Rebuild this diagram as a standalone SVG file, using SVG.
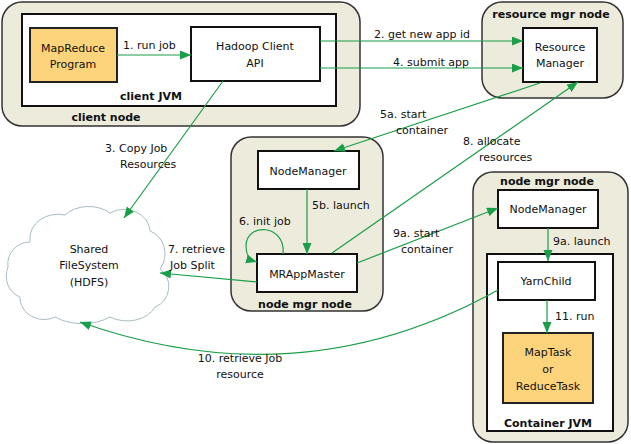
<svg xmlns="http://www.w3.org/2000/svg" width="631" height="444" viewBox="0 0 631 444">
<style>
.host{fill:#ecebdc;stroke:#333;stroke-width:1.5}
.jvm{fill:#fff;stroke:#111;stroke-width:2}
.box{fill:#fff;stroke:#111;stroke-width:2}
.task{fill:#fdd37b;stroke:#222;stroke-width:2}
.t{font-family:"DejaVu Sans",Verdana,sans-serif;font-size:11px;fill:#111}
.c{text-anchor:middle}
.b{font-family:"DejaVu Sans",Verdana,sans-serif;font-size:11px;font-weight:bold;fill:#111;text-anchor:middle}
.e{fill:none;stroke:#1a9e48;stroke-width:1.2;marker-end:url(#ah)}
.cloud{fill:#fff;stroke:#a9bcc4;stroke-width:1}
</style>
<defs>
<marker id="ah" markerUnits="userSpaceOnUse" markerWidth="12" markerHeight="10" refX="11" refY="4.5" orient="auto">
<path d="M0,0 L11,4.5 L0,9 z" fill="#1a9e48"/>
</marker>
</defs>
<g id="client-node">
<rect class="host" x="2" y="2" width="358" height="124" rx="20"/>
<text class="b" x="106" y="121">client node</text>
</g>
<g id="client-jvm">
<rect class="jvm" x="22" y="14" width="314" height="92"/>
<text class="b" x="151" y="100">client JVM</text>
</g>
<g id="mapreduce-program">
<rect class="task" x="30" y="28" width="87" height="54"/>
<text class="t c" x="73" y="52">MapReduce</text>
<text class="t c" x="73" y="68">Program</text>
</g>
<g id="hadoop-client">
<rect class="box" x="191" y="27" width="129" height="54"/>
<text class="t c" x="255" y="50">Hadoop Client</text>
<text class="t c" x="255" y="67">API</text>
</g>
<g id="resource-mgr-node">
<rect class="host" x="482" y="2" width="141" height="96" rx="20"/>
<text class="b" x="551" y="18">resource mgr node</text>
</g>
<g id="resource-manager">
<rect class="box" x="523" y="28" width="74" height="54"/>
<text class="t c" x="560" y="51">Resource</text>
<text class="t c" x="560" y="67">Manager</text>
</g>
<g id="node-mgr-node-1">
<rect class="host" x="231" y="137" width="152" height="174" rx="20"/>
<text class="b" x="305" y="308">node mgr node</text>
</g>
<g id="node-manager-1">
<rect class="box" x="258" y="151" width="101" height="38"/>
<text class="t c" x="308" y="175">NodeManager</text>
</g>
<g id="mrappmaster">
<rect class="box" x="257" y="254" width="100" height="38"/>
<text class="t c" x="307" y="278">MRAppMaster</text>
</g>
<g id="node-mgr-node-2">
<rect class="host" x="473" y="172" width="155" height="270" rx="20"/>
<text class="b" x="547" y="185">node mgr node</text>
</g>
<g id="node-manager-2">
<rect class="box" x="498" y="190" width="100" height="38"/>
<text class="t c" x="548" y="213">NodeManager</text>
</g>
<g id="container-jvm">
<rect class="jvm" x="487" y="254" width="126" height="177"/>
<text class="b" x="548" y="427">Container JVM</text>
</g>
<g id="yarnchild">
<rect class="box" x="498" y="262" width="97" height="38"/>
<text class="t c" x="546" y="285">YarnChild</text>
</g>
<g id="task">
<rect class="task" x="503" y="333" width="90" height="70"/>
<text class="t c" x="548" y="356">MapTask</text>
<text class="t c" x="548" y="373">or</text>
<text class="t c" x="548" y="390">ReduceTask</text>
</g>
<g id="hdfs">
<path class="cloud" d="M30,240 a28,24 0 0 1 35,-25 a30,22 0 0 1 45,-2 a26,22 0 0 1 40,18 a22,24 0 0 1 10,38 a22,22 0 0 1 -5,38 a30,22 0 0 1 -45,10 a40,24 0 0 1 -55,0 a24,22 0 0 1 -35,-20 a20,22 0 0 1 -12,-30 a22,22 0 0 1 22,-25 z"/>
<text class="t c" x="89" y="253">Shared</text>
<text class="t c" x="89" y="269">FileSystem</text>
<text class="t c" x="89" y="286">(HDFS)</text>
</g>
<g id="connectors">
<path class="e" d="M117,55 L191,55"/>
<path class="e" d="M320,41 L523,41"/>
<path class="e" d="M320,68 L523,68"/>
<path class="e" d="M223,81 L124,218"/>
<path class="e" d="M540,83 L334,151"/>
<path class="e" d="M307,189 L307,254"/>
<path class="e" d="M283,254 C286,224 246,222 246,246 C246,256 250,260 257,262"/>
<path class="e" d="M257,282 L160,273"/>
<path class="e" d="M332,253 L578,82"/>
<path class="e" d="M357,263 L498,208"/>
<path class="e" d="M548,228 L548,261"/>
<path class="e" d="M547,300 L547,333"/>
<path class="e" d="M498,290 Q300,400 80,322"/>
</g>
<g id="labels">
<text class="t" x="123" y="49">1. run job</text>
<text class="t" x="374" y="38">2. get new app id</text>
<text class="t" x="393" y="66">4. submit app</text>
<text class="t" x="105" y="152">3. Copy Job</text>
<text class="t" x="120" y="168">Resources</text>
<text class="t" x="380" y="118">5a. start</text>
<text class="t" x="396" y="134">container</text>
<text class="t" x="463" y="145">8. allocate</text>
<text class="t" x="479" y="161">resources</text>
<text class="t" x="312" y="209">5b. launch</text>
<text class="t" x="239" y="225">6. init job</text>
<text class="t" x="168" y="253">7. retrieve</text>
<text class="t" x="170" y="269">Job Split</text>
<text class="t" x="393" y="237">9a. start</text>
<text class="t" x="401" y="253">container</text>
<text class="t" x="553" y="245">9a. launch</text>
<text class="t" x="555" y="320">11. run</text>
<text class="t c" x="240" y="362">10. retrieve Job</text>
<text class="t c" x="240" y="378">resource</text>
</g>
</svg>
